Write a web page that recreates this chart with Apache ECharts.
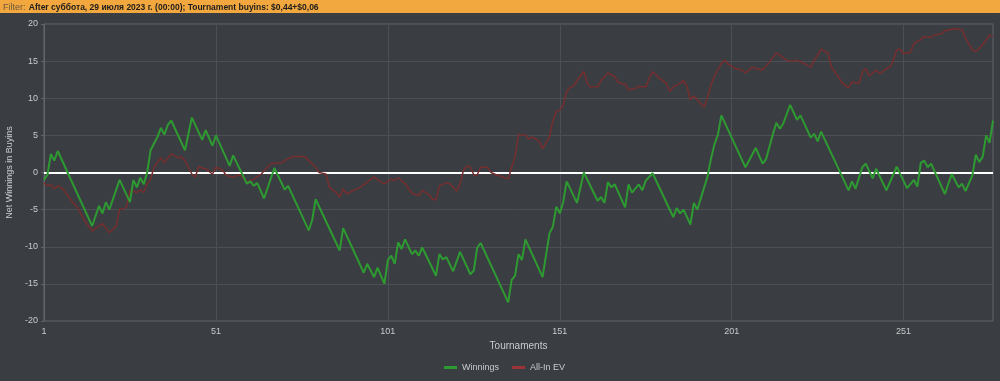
<!DOCTYPE html>
<html><head><meta charset="utf-8">
<script src="https://cdn.jsdelivr.net/npm/echarts@6/dist/echarts.min.js"></script>
<style>html,body{margin:0;padding:0;background:#3a3d41;}#c{width:1000px;height:381px;}</style>
</head><body><div id="c"></div>
<script>
const filterLabel = 'Filter:';
const filterText = 'After суббота, 29 июля 2023 г. (00:00); Tournament buyins: $0,44+$0,06';
const seriesNames = ['Winnings', 'All-In EV'];
const xAxisName = 'Tournaments';
const yAxisName = 'Net Winnings in Buyins';
const tournamentCount = 277;

// [tournament, net winnings in buyins] at turning points
const winnings = [[1,-1],[2,-0.3],[3,2.5],[4,1.6],[5,2.9],[15,-7.2],[17,-4.5],[18,-5.5],[19,-4],[20,-5],[23,-1],[26,-4],[27,-1],[28,-2],[29,-0.7],[30,-1.6],[31,0],[32,3],[33,3.9],[34,4.8],[35,6],[36,5.1],[37,6.4],[38,7],[42,3],[44,7.4],[47,4.4],[48,5.7],[50,3.6],[51,5],[55,0.9],[56,2.3],[60,-1.5],[61,-1.2],[62,-1.8],[63,-1.4],[65,-3.5],[68,0.6],[71,-2.3],[72,-1.8],[78,-7.8],[79,-6.4],[80,-3.6],[87,-10.5],[88,-7.5],[94,-13.5],[95,-12.3],[97,-14.1],[98,-12.8],[100,-15],[101,-11.8],[102,-11.2],[103,-12.3],[104,-9.4],[105,-10.3],[106,-9],[108,-11],[109,-10.5],[110,-11.2],[111,-10.1],[115,-13.9],[116,-11],[117,-11.7],[118,-11.4],[120,-13.3],[122,-10.7],[125,-13.7],[126,-13.2],[127,-10.1],[128,-9.5],[136,-17.5],[137,-14.5],[138,-13.9],[139,-11],[140,-11.8],[141,-9],[146,-14.1],[148,-8.2],[149,-7.3],[150,-4.6],[151,-5.5],[152,-4],[153,-1.2],[156,-4.1],[158,0],[162,-3.8],[163,-3.3],[164,-4.1],[165,-1.3],[166,-2],[167,-1.6],[170,-4.7],[171,-1.6],[172,-2.7],[174,-1.6],[175,-2.4],[176,-1.1],[178,-0.1],[184,-6],[185,-4.8],[186,-5.5],[187,-5],[189,-7],[190,-4.1],[191,-5],[194,-0.5],[195,1.9],[196,3.8],[197,5.1],[198,7.7],[205,0.7],[208,3.3],[210,1.2],[211,1.8],[213,5.2],[214,6.7],[215,5.9],[216,6.6],[218,9.1],[220,7.1],[221,7.7],[224,4.7],[225,5.2],[226,4.2],[227,5.5],[235,-2.4],[236,-1.2],[237,-2.2],[239,0.7],[240,1.2],[241,0.2],[242,-0.8],[243,0.5],[246,-2.4],[249,0.8],[252,-2.1],[254,-1],[255,-1.9],[256,1.3],[257,1.6],[258,0.7],[259,1.2],[263,-2.9],[265,-0.2],[267,-2],[268,-1.5],[269,-2.5],[271,-0.4],[272,2.4],[273,1.4],[274,2.1],[275,5],[276,4],[277,7]];

// [tournament, all-in EV in buyins]
const allInEV = [[1,-1.4],[2,-1.8],[3,-1.6],[4,-2.2],[5,-1.8],[6,-2],[8,-3.1],[9,-3.8],[11,-4.9],[12,-5.8],[13,-6.6],[15,-7.9],[16,-7.5],[18,-6.9],[20,-8.1],[22,-7.2],[23,-4.9],[24,-4.9],[25,-4.7],[26,-2.4],[28,-2.7],[29,-2.3],[30,-2.7],[31,-1.5],[32,-0.9],[33,0.7],[35,2],[36,1.3],[38,2.5],[40,2],[41,2.1],[42,1.6],[44,-0.2],[45,-0.6],[46,0.8],[47,0.6],[48,0.5],[50,-0.2],[51,0.7],[53,0.3],[54,-0.4],[56,-0.6],[58,-0.3],[60,-1.3],[62,-0.9],[64,-0.3],[66,0.7],[67,1.2],[70,1.3],[71,1.6],[73,2.1],[75,2.2],[77,2.1],[78,1.6],[80,0.7],[81,0],[83,-0.2],[84,-2],[86,-2.7],[87,-3.3],[88,-2.2],[89,-2.9],[91,-2.4],[93,-2],[95,-1.3],[97,-0.6],[99,-1.3],[100,-1.5],[102,-0.9],[103,-1.1],[104,-0.7],[106,-1.5],[108,-2.8],[110,-3.1],[111,-2.4],[113,-3],[114,-3.6],[115,-3.7],[116,-1.8],[118,-1.4],[119,-1.5],[121,-2.5],[122,-1.5],[123,0.3],[124,0.9],[125,0.7],[126,-0.3],[127,-0.3],[128,0.7],[130,0.7],[131,0],[133,-0.4],[134,-0.5],[136,-0.9],[137,0.7],[138,2.1],[139,5.2],[140,5],[141,5.1],[142,4.5],[143,4.8],[145,4.2],[146,3.2],[148,4.8],[149,7],[150,8.2],[151,8.4],[152,9.1],[153,10.9],[154,11.5],[155,11.6],[156,12.4],[158,13.6],[159,12],[160,11.5],[161,11.6],[162,11.5],[163,12.4],[165,13.4],[167,12.9],[168,12.1],[170,11.9],[171,11.1],[173,11.3],[174,11.6],[176,11.5],[177,12.7],[178,13.6],[180,12.7],[182,12],[183,10.9],[184,11.5],[186,12],[187,12.4],[188,11.6],[189,9.8],[190,10.3],[192,9.3],[193,8.8],[194,10.2],[195,11.8],[196,13],[198,14.7],[199,15.1],[200,14.6],[202,14],[204,13.8],[205,13.4],[207,14.2],[208,14],[210,13.8],[212,14.9],[214,16.1],[215,15.8],[217,15.1],[219,15],[220,15.1],[222,14.7],[224,14.2],[225,15.1],[226,15.8],[227,16.6],[229,16.1],[230,14.2],[232,12.9],[233,12.1],[235,11.4],[236,12.2],[238,12],[239,13.5],[240,14],[241,13],[243,13.8],[244,13.3],[246,14],[247,14.2],[248,15.1],[249,16.5],[250,16.6],[251,16],[253,16.2],[254,17.4],[256,17.9],[257,18.3],[259,18.2],[260,18.5],[262,18.7],[263,19.1],[265,19.3],[266,19.4],[268,19.2],[269,18.1],[271,16.5],[272,16.3],[273,16.7],[275,17.8],[276,18.5],[277,18.3]];

const chart = echarts.init(document.getElementById('c'), null, {renderer: 'canvas'});
const labelColor = '#c9cbcd';
const font = 'Liberation Sans, Arial, sans-serif';
chart.setOption({
  backgroundColor: '#3a3d41',
  animation: false,
  textStyle: {fontFamily: font},
  graphic: [
    {type: 'rect', left: 0, top: 0, shape: {width: 1000, height: 13}, style: {fill: '#f2a73f'}, z: 10},
    {type: 'text', left: 3, top: 2, z: 11, style: {
      text: '{a|' + filterLabel + '} {b|' + filterText + '}',
      rich: {
        a: {fill: '#6a5a3c', fontSize: 9, fontFamily: font},
        b: {fill: '#1c1c1c', fontSize: 8.5, fontWeight: 'bold', fontFamily: font}
      }
    }}
  ],
  grid: {left: 44, right: 7, top: 24, bottom: 60, show: true, borderColor: '#62666a', borderWidth: 1,
    backgroundColor: 'transparent', containLabel: false, outerBoundsMode: 'none'},
  legend: {
    data: seriesNames, left: 439, top: 358, itemWidth: 13, itemHeight: 3, itemGap: 13,
    icon: 'rect', textStyle: {color: labelColor, fontSize: 9, fontFamily: font}
  },
  xAxis: {
    type: 'value', min: 1, max: tournamentCount, interval: 50,
    name: xAxisName, nameLocation: 'middle', nameGap: 16,
    nameTextStyle: {color: labelColor, fontSize: 10},
    axisLine: {show: true, lineStyle: {color: '#7c8084'}},
    axisTick: {show: false},
    axisLabel: {color: labelColor, fontSize: 9, margin: 6, showMaxLabel: false},
    splitLine: {show: true, lineStyle: {color: '#4c5054', width: 1}}
  },
  yAxis: {
    type: 'value', min: -20, max: 20, interval: 5,
    name: yAxisName, nameLocation: 'middle', nameGap: 24,
    nameTextStyle: {color: labelColor, fontSize: 9},
    axisLine: {show: true, lineStyle: {color: '#62666a'}},
    axisTick: {show: true, length: 3, lineStyle: {color: '#62666a'}},
    axisLabel: {color: labelColor, fontSize: 9, margin: 6},
    splitLine: {show: true, lineStyle: {color: '#4c5054', width: 1}}
  },
  series: [
    {
      name: seriesNames[0], type: 'line', data: winnings, showSymbol: false, z: 4,
      lineStyle: {color: '#2e9a32', width: 2}, itemStyle: {color: '#2e9a32'},
      markLine: {silent: true, symbol: 'none', label: {show: false}, z: 3,
        lineStyle: {color: '#ffffff', width: 2, type: 'solid'}, data: [{yAxis: 0}]}
    },
    {
      name: seriesNames[1], type: 'line', data: allInEV, showSymbol: false, z: 3,
      lineStyle: {color: '#762e2f', width: 1.5}, itemStyle: {color: '#9a3436'}
    }
  ]
});
</script>
</body></html>
